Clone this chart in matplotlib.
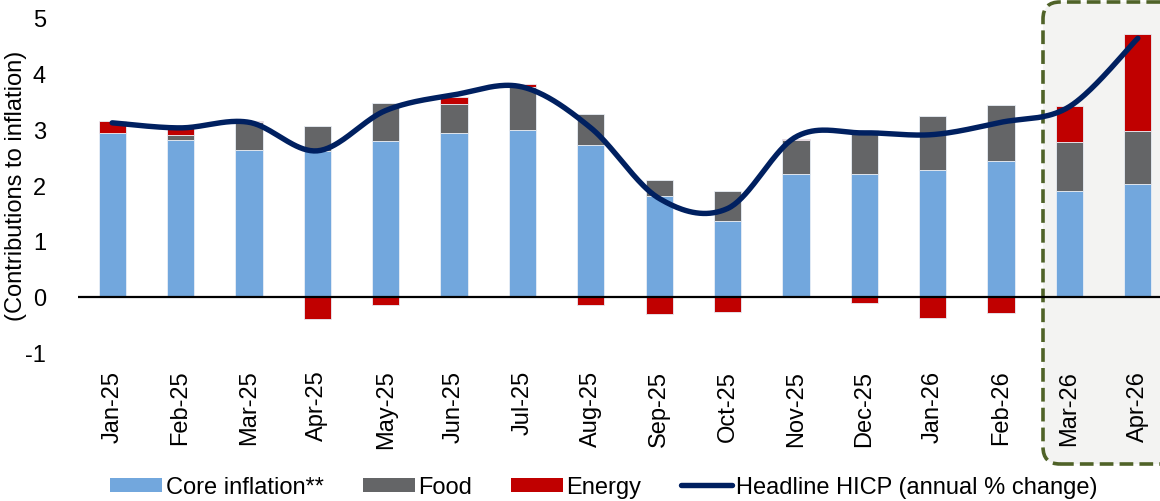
import numpy as np
import matplotlib
matplotlib.use("Agg")
import matplotlib.pyplot as plt
from matplotlib.patches import FancyBboxPatch, Patch
from matplotlib.lines import Line2D
from matplotlib.transforms import IdentityTransform

plt.rcParams['font.family'] = ['Liberation Sans', 'DejaVu Sans']
plt.rcParams['axes.unicode_minus'] = False

months = ["Jan-25", "Feb-25", "Mar-25", "Apr-25", "May-25", "Jun-25", "Jul-25", "Aug-25",
          "Sep-25", "Oct-25", "Nov-25", "Dec-25", "Jan-26", "Feb-26", "Mar-26", "Apr-26"]
core = [2.92, 2.80, 2.63, 2.60, 2.79, 2.92, 2.98, 2.72, 1.80, 1.35, 2.19, 2.20, 2.26, 2.42, 1.90, 2.01]
food = [0.01, 0.09, 0.49, 0.45, 0.67, 0.53, 0.77, 0.54, 0.29, 0.54, 0.62, 0.78, 0.97, 1.01, 0.87, 0.95]
energy = [0.21, 0.17, 0.02, -0.40, -0.14, 0.13, 0.05, -0.15, -0.30, -0.26, 0.02, -0.11, -0.38, -0.29, 0.64, 1.74]
headline = [3.11, 3.02, 3.12, 2.61, 3.33, 3.61, 3.75, 3.02, 1.76, 1.58, 2.86, 2.93, 2.90, 3.12, 3.40, 4.62]

C_CORE = "#72A7DD"
C_FOOD = "#646567"
C_ENERGY = "#C00000"
C_LINE = "#002060"


def smooth_curve(xs, ys, n=40):
    """Bezier smoothing through every point (tension 1/6, like a spreadsheet smoothed line)."""
    xs = np.asarray(xs, float)
    ys = np.asarray(ys, float)
    px, py = [], []
    m = len(xs)
    for i in range(m - 1):
        x0, y0 = (xs[i - 1], ys[i - 1]) if i > 0 else (xs[i], ys[i])
        x1, y1 = xs[i], ys[i]
        x2, y2 = xs[i + 1], ys[i + 1]
        x3, y3 = (xs[i + 2], ys[i + 2]) if i + 2 < m else (xs[i + 1], ys[i + 1])
        c1x, c1y = x1 + (x2 - x0) / 6, y1 + (y2 - y0) / 6
        c2x, c2y = x2 - (x3 - x1) / 6, y2 - (y3 - y1) / 6
        t = np.linspace(0, 1, n)
        bx = (1 - t) ** 3 * x1 + 3 * (1 - t) ** 2 * t * c1x + 3 * (1 - t) * t ** 2 * c2x + t ** 3 * x2
        by = (1 - t) ** 3 * y1 + 3 * (1 - t) ** 2 * t * c1y + 3 * (1 - t) * t ** 2 * c2y + t ** 3 * y2
        px.extend(bx)
        py.extend(by)
    return np.array(px), np.array(py)


W, H = 1160, 502
fig = plt.figure(figsize=(W / 100, H / 100), dpi=100)
fig.patch.set_facecolor("white")

# highlighted forecast months: rounded dashed panel behind the plot
panel = FancyBboxPatch((1043, H - 465), 200, 462,
                       boxstyle="round,pad=0,rounding_size=17",
                       transform=IdentityTransform(),
                       facecolor="#F3F3F2", edgecolor="#4F6228",
                       linewidth=2.6, linestyle=(0, (3.8, 1.7)), zorder=-5)
fig.add_artist(panel)

ax_left, ax_right, ax_top, ax_bot = 78, 1172, 18, 354
ax = fig.add_axes([ax_left / W, 1 - ax_bot / H, (ax_right - ax_left) / W, (ax_bot - ax_top) / H])
ax.set_facecolor("none")

x = np.arange(len(months))
core_a = np.array(core)
food_a = np.array(food)
energy_a = np.array(energy)

bw = 0.4
ekw = dict(edgecolor="#E8EEF6", linewidth=0.6)
ax.bar(x, core_a, bw, color=C_CORE, zorder=2, **ekw)
ax.bar(x, food_a, bw, bottom=core_a, color=C_FOOD, zorder=2, **ekw)
pos_base = core_a + food_a
energy_bottom = np.where(energy_a >= 0, pos_base, 0)
ax.bar(x, energy_a, bw, bottom=energy_bottom, color=C_ENERGY, zorder=2, **ekw)

ax.axhline(0, color="black", linewidth=1.6, zorder=3)

sx, sy = smooth_curve(x, headline)
ax.plot(sx, sy, color=C_LINE, linewidth=3.9, solid_capstyle="round", zorder=4)

ax.set_xlim(-0.5, len(months) - 0.5)
ax.set_ylim(-1, 5)
ax.set_yticks(range(-1, 6))
ax.set_xticks(x)
ax.set_xticklabels(months, rotation=90, fontsize=17)
ax.tick_params(axis="y", length=0, pad=23, labelsize=17)
ax.tick_params(axis="x", length=0, pad=12)
for s in ax.spines.values():
    s.set_visible(False)

ax.set_ylabel("(Contributions to inflation)", fontsize=17)
ax.yaxis.set_label_coords((27 - ax_left) / (ax_right - ax_left),
                          (ax_bot - 186) / (ax_bot - ax_top))

handles = [Patch(facecolor=C_CORE, label="Core inflation**"),
           Patch(facecolor=C_FOOD, label="Food"),
           Patch(facecolor=C_ENERGY, label="Energy"),
           Line2D([0], [0], color=C_LINE, linewidth=3.9, solid_capstyle="round",
                  label="Headline HICP (annual % change)")]
fig.legend(handles=handles, loc="center", bbox_to_anchor=(604 / W, 1 - 488 / H),
           ncol=4, frameon=False, fontsize=17, handlelength=2.2, handleheight=0.55,
           handletextpad=0.15, columnspacing=1.65, borderaxespad=0, borderpad=0)

fig.savefig("out.png", dpi=100)
